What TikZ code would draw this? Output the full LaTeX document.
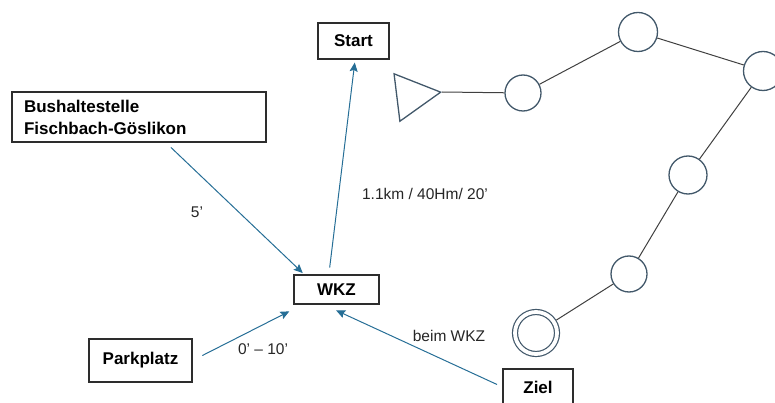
\documentclass[tikz,border=0pt]{standalone}
\usepackage{fontspec}
\setmainfont{Liberation Sans}
\usetikzlibrary{shapes.geometric, arrows, arrows.meta}
\definecolor{pathblue}{RGB}{38,110,150}
\definecolor{trackslate}{RGB}{66,88,106}
\definecolor{boxgray}{RGB}{45,45,45}
\tikzstyle{place} = [rectangle, draw=boxgray, line width=1.1pt, inner sep=0pt, font=\fontsize{17}{22}\selectfont\bfseries, text centered]
\tikzstyle{time} = [font=\fontsize{15.5}{18}\selectfont, text=black!85, inner sep=0pt]
\tikzstyle{post} = [circle, draw=trackslate, line width=1.3pt, inner sep=0pt, minimum size=36pt]
\tikzstyle{leg} = [draw=black!75, line width=1pt]
\tikzstyle{arrow} = [line width=1pt, draw=pathblue, ->, >={Stealth[length=9pt, width=8pt, inset=1.5pt]}]

\begin{document}
\begin{tikzpicture}[x=1pt, y=-1pt]
\useasboundingbox (0,0) rectangle (775,403);

\node (bus) [place, text width=230pt, inner xsep=12pt, minimum height=50pt, align=left] at (139,117) {Bushaltestelle\\Fischbach-Göslikon};
\node (start) [place, minimum width=71pt, minimum height=36pt] at (353.5,41) {Start};
\node (wkz) [place, minimum width=85pt, minimum height=29pt] at (336.5,289.5) {WKZ};
\node (park) [place, minimum width=103pt, minimum height=43pt] at (140.5,360.5) {Parkplatz};
\node (ziel) [place, minimum width=70pt, minimum height=36pt] at (538,387) {Ziel};

\node (t5) [time] at (197,212) {5’};
\node (tstart) [time] at (425,194) {1.1km / 40Hm/ 20’};
\node (tpark) [time] at (263,349) {0’ – 10’};
\node (tziel) [time] at (449,336) {beim WKZ};

\draw [arrow, shorten <=7pt, shorten >=2pt] (bus) -- (wkz.155);
\draw [arrow, shorten <=7pt, shorten >=3pt] (wkz.117) -- (start.-85);
\draw [arrow, shorten <=11pt, shorten >=15pt] (park.east) -- (wkz.204);
\draw [arrow, shorten <=6pt, shorten >=14pt] (ziel.west) -- (wkz.229);

\node (tri) [isosceles triangle, isosceles triangle apex angle=57, draw=trackslate, line width=1.3pt, inner sep=0pt, minimum height=44pt, rotate=7, anchor=apex] at (442,92) {};
\node (c1) [post] at (523,93) {};
\node (c2) [post, minimum size=39pt] at (638,32) {};
\node (c3) [post, minimum size=39pt] at (763,71) {};
\node (c4) [post, minimum size=38pt] at (688,175) {};
\node (c5) [post] at (629,274) {};
\node (goal) [post, line width=1.2pt, double=white, double distance=3.8pt, minimum size=42pt] at (536,333) {};

\draw [leg] (tri.apex) -- (c1);
\draw [leg] (c1) -- (c2);
\draw [leg] (c2) -- (c3);
\draw [leg] (c3) -- (c4);
\draw [leg] (c4) -- (c5);
\draw [leg, shorten >=2.5pt] (c5) -- (goal);

\end{tikzpicture}
\end{document}
